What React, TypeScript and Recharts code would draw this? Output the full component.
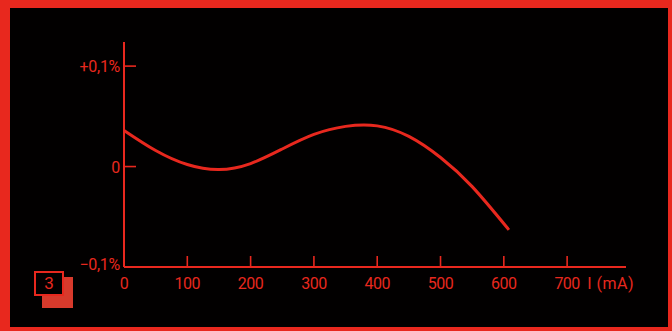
import { LineChart, Line, XAxis, YAxis } from "recharts";

const RED = "#e8281e";
const FONT = "Roboto, 'DejaVu Sans', sans-serif";

// current in mA, deviation in %
const currents = [0, 50, 100, 150, 200, 250, 300, 350, 400, 450, 500, 550, 608];
const deviation = [0.036, 0.016, 0.002, -0.003, 0.003, 0.0175, 0.032, 0.040, 0.0405, 0.030, 0.009, -0.020, -0.063];

const xTicks = [0, 100, 200, 300, 400, 500, 600, 700];
const yTicks = [-0.1, 0, 0.1];
const yLabels: Record<string, string> = { "-0.1": "\u22120,1%", "0": "0", "0.1": "+0,1%" };

const data = currents.map((c, i) => ({ current: c, dev: deviation[i] }));

function XTick({ x, y, payload }: any) {
  const v = payload.value;
  return (
    <g>
      {v !== 0 && <line x1={x} x2={x} y1={y} y2={y - 11} stroke={RED} strokeWidth={1.6} />}
      <text x={x} y={y + 22} textAnchor="middle" fill={RED} fontSize={16} fontFamily={FONT} letterSpacing={-0.5}>
        {v}
      </text>
      {v === 700 && (
        <text x={x + 20} y={y + 22} textAnchor="start" fill={RED} fontSize={16} fontFamily={FONT} letterSpacing={0.5}>
          I (mA)
        </text>
      )}
    </g>
  );
}

function YTick({ x, y, payload }: any) {
  const v = payload.value;
  const label = yLabels[String(v)];
  return (
    <g>
      {v !== -0.1 && <line x1={x} x2={x + 12} y1={y} y2={y} stroke={RED} strokeWidth={1.6} />}
      <text x={x - 4} y={v === -0.1 ? y + 3 : y + 6} textAnchor="end" fill={RED} fontSize={16} fontFamily={FONT} letterSpacing={-0.3}>
        {label}
      </text>
    </g>
  );
}

export default function App() {
  return (
    <div style={{ position: "absolute", left: 0, top: 0, width: 672, height: 331, background: RED, overflow: "hidden" }}>
      <div style={{ position: "absolute", left: 10, top: 8, width: 658, height: 319, background: "#020000" }} />
      <div style={{ position: "absolute", left: 0, top: 0 }}>
        <LineChart width={672} height={331} data={data} margin={{ top: 42, right: 46, bottom: 34, left: 64 }}>
          <XAxis
            dataKey="current"
            type="number"
            domain={[0, 793]}
            ticks={xTicks}
            height={30}
            tickSize={0}
            tickMargin={0}
            axisLine={{ stroke: RED, strokeWidth: 2 }}
            tickLine={false}
            tick={<XTick />}
            interval={0}
          />
          <YAxis
            type="number"
            domain={[-0.1, 0.124]}
            ticks={yTicks}
            width={60}
            tickSize={0}
            tickMargin={0}
            axisLine={{ stroke: RED, strokeWidth: 2 }}
            tickLine={false}
            tick={<YTick />}
            interval={0}
            allowDataOverflow
          />
          <Line
            dataKey="dev"
            type="natural"
            stroke={RED}
            strokeWidth={3}
            dot={false}
            isAnimationActive={false}
          />
        </LineChart>
      </div>
      <div style={{ position: "absolute", left: 42, top: 277, width: 31, height: 31, background: "#d83a2c" }} />
      <div
        style={{
          position: "absolute",
          left: 34,
          top: 271,
          width: 26,
          height: 21,
          border: `2px solid ${RED}`,
          background: "#020000",
          color: RED,
          fontFamily: FONT,
          fontSize: 17,
          lineHeight: "21px",
          textAlign: "center",
        }}
      >
        3
      </div>
    </div>
  );
}
